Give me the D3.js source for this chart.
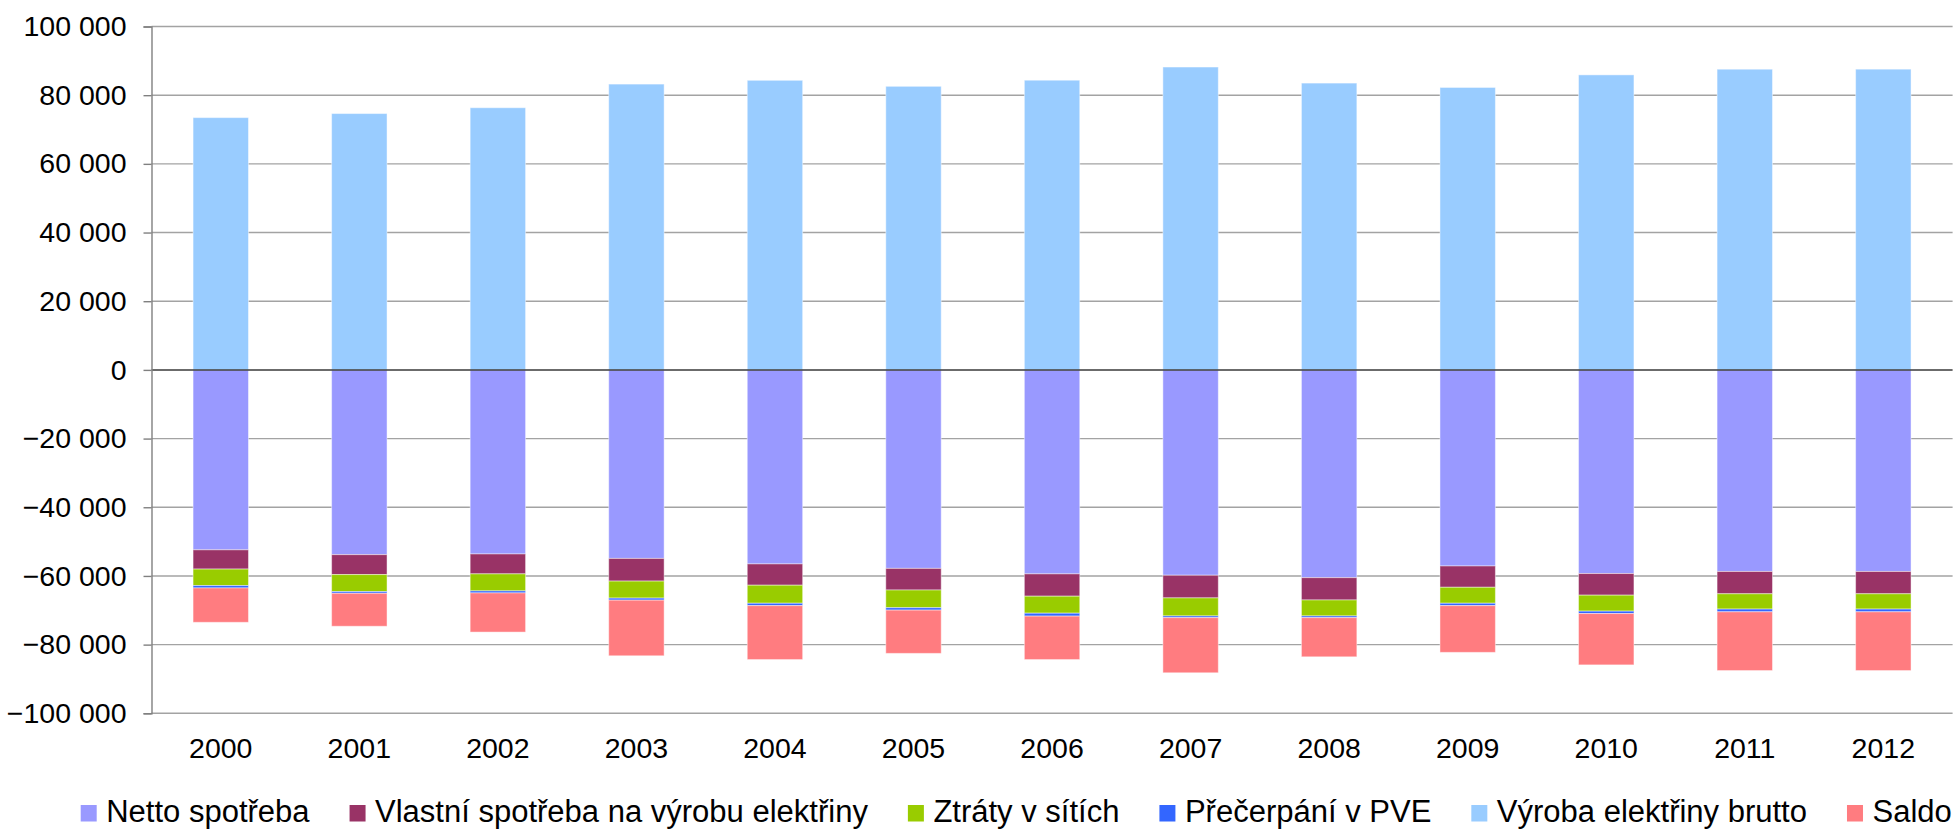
<!DOCTYPE html>
<html>
<head>
<meta charset="utf-8">
<script src="https://cdn.jsdelivr.net/npm/d3@7"></script>
<style>
  html, body { margin: 0; padding: 0; background: #fff; }
  svg { display: block; font-family: "Liberation Sans", Arial, sans-serif; }
</style>
</head>
<body>
<svg id="chart" width="1957" height="829"></svg>
<script>
// Bilance elektřiny ČR (GWh), roky 2000–2012
const years = ["2000","2001","2002","2003","2004","2005","2006","2007","2008","2009","2010","2011","2012"];
const nettoSpotreba   = [-52400,-53800,-53600,-54900,-56500,-57800,-59400,-59800,-60500,-57100,-59300,-58700,-58700];
const vlastniSpotreba = [-5600,-5800,-5800,-6600,-6200,-6300,-6500,-6600,-6500,-6200,-6300,-6500,-6500];
const ztraty          = [-4800,-4950,-4950,-4950,-5250,-5150,-4950,-5250,-4650,-4650,-4650,-4450,-4450];
const precerpani      = [-700,-500,-600,-600,-700,-700,-850,-500,-500,-700,-700,-800,-800];
const vyrobaBrutto    = [73466,74647,76348,83227,84333,82578,84361,88198,83518,82250,85910,87561,87574];
const saldo           = [-10000,-9600,-11400,-16200,-15700,-12600,-12650,-16050,-11400,-13600,-14950,-17100,-17100];
const yTicks = [100000,80000,60000,40000,20000,0,-20000,-40000,-60000,-80000,-100000];

const series = [
  { key: "netto",   name: "Netto spotřeba",                       color: "#9999FF", values: nettoSpotreba },
  { key: "vlastni", name: "Vlastní spotřeba na výrobu elektřiny", color: "#993366", values: vlastniSpotreba },
  { key: "ztraty",  name: "Ztráty v sítích",                      color: "#99CC00", values: ztraty },
  { key: "pve",     name: "Přečerpání v PVE",                     color: "#3366FF", values: precerpani },
  { key: "brutto",  name: "Výroba elektřiny brutto",              color: "#99CCFF", values: vyrobaBrutto },
  { key: "saldo",   name: "Saldo",                                color: "#FF7C80", values: saldo }
];

const rows = years.map((y, i) => {
  const r = { year: y };
  series.forEach(s => { r[s.key] = s.values[i]; });
  return r;
});

const svg = d3.select("#chart");
const plot = { left: 151.5, right: 1952.6, top: 26.5, bottom: 713.3 };

const x = d3.scaleBand().domain(years).range([plot.left, plot.right]).paddingInner(0.6).paddingOuter(0.3);
const y = d3.scaleLinear().domain([-100000, 100000]).range([plot.bottom, plot.top]);

const fmt = v => d3.format(",")(v).replace(/,/g, " ");

// horizontal gridlines
svg.append("g").selectAll("line").data(yTicks.filter(t => t !== 0)).join("line")
  .attr("x1", plot.left).attr("x2", plot.right)
  .attr("y1", d => y(d)).attr("y2", d => y(d))
  .attr("stroke", "#a3a3a3").attr("stroke-width", 1.4);

// stacked bars (positive up, negative down)
const stack = d3.stack().keys(series.map(s => s.key)).offset(d3.stackOffsetDiverging);
const layers = stack(rows);

svg.append("g").selectAll("g").data(layers).join("g")
  .attr("fill", (d, i) => series[i].color)
  .selectAll("rect").data(d => d).join("rect")
  .attr("x", d => x(d.data.year))
  .attr("width", x.bandwidth())
  .attr("y", d => y(Math.max(d[0], d[1])))
  .attr("height", d => Math.abs(y(d[0]) - y(d[1])))
  .attr("stroke", "rgba(255,255,255,0.45)")
  .attr("stroke-width", 1);

// zero line
svg.append("line")
  .attr("x1", plot.left).attr("x2", plot.right)
  .attr("y1", y(0)).attr("y2", y(0))
  .attr("stroke", "#3a3a3a").attr("stroke-width", 1.5);

// y axis
const yAxis = d3.axisLeft(y).tickValues(yTicks).tickSize(8).tickPadding(17).tickFormat(fmt);
const gy = svg.append("g").attr("transform", `translate(${plot.left},0)`).call(yAxis);
gy.select(".domain").attr("stroke", "#808080").attr("stroke-width", 1.4);
gy.selectAll(".tick line").attr("stroke", "#808080").attr("stroke-width", 1.4);
gy.selectAll(".tick text").attr("font-size", "28.5px").attr("fill", "#000")
  .attr("font-family", "'Liberation Sans', Arial, sans-serif");

// x axis labels
const xAxis = d3.axisBottom(x).tickSize(0).tickPadding(0);
const gx = svg.append("g").attr("transform", `translate(0,${plot.bottom})`).call(xAxis);
gx.select(".domain").remove();
gx.selectAll(".tick text").attr("font-size", "28.5px").attr("fill", "#000")
  .attr("font-family", "'Liberation Sans', Arial, sans-serif")
  .attr("dy", null).attr("y", 45);

// legend
const legend = svg.append("g").attr("font-size", "31px");
let lx = 80.7;
series.forEach(s => {
  const g = legend.append("g").attr("transform", `translate(${lx},0)`);
  g.append("rect").attr("x", 0).attr("y", 805).attr("width", 16).attr("height", 16.5).attr("fill", s.color);
  const t = g.append("text").attr("x", 25.5).attr("y", 821.7).attr("fill", "#000").text(s.name);
  const w = t.node().getComputedTextLength();
  lx += 25.5 + w + 40;
});
</script>
</body>
</html>
